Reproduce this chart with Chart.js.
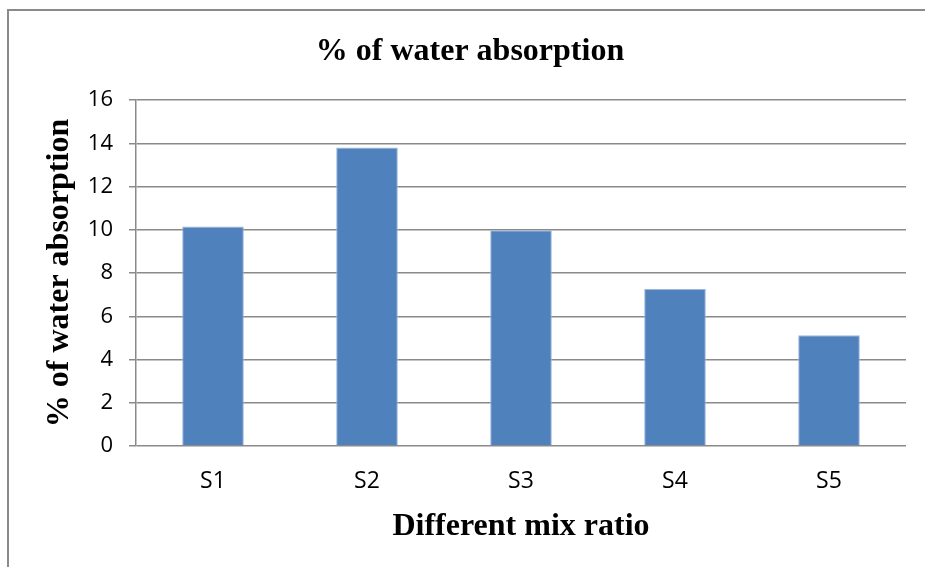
<!DOCTYPE html>
<html>
<head>
<meta charset="utf-8">
<title>% of water absorption</title>
<script src="https://cdn.jsdelivr.net/npm/chart.js@4"></script>
<style>
  html, body { margin: 0; padding: 0; background: #ffffff; }
  #wrap { width: 925px; height: 567px; }
</style>
</head>
<body>
<div id="wrap"><canvas id="chart" width="925" height="567"></canvas></div>
<script>
// Mix ratios and their water absorption (%)
const categories = ['S1', 'S2', 'S3', 'S4', 'S5'];
const absorption = [10.15, 13.8, 9.98, 7.26, 5.12];
const yTicks = [0, 2, 4, 6, 8, 10, 12, 14, 16];

const chartTitle = '% of water absorption';
const xTitle = 'Different mix ratio';
const yTitle = '% of water absorption';

const serifFamily = '"Liberation Serif", "Times New Roman", serif';
const serifBold = { family: serifFamily, size: 32, weight: 'bold' };
const yTickFont = { family: '"Open Sans", "Liberation Sans", sans-serif', size: 22 };
const xTickFont = { family: '"Open Sans", "Liberation Sans", sans-serif', size: 23 };

// Frame lines along the left and top edges, plus the centred chart title
const framePlugin = {
  id: 'frame',
  beforeDraw(chart) {
    const ctx = chart.ctx;
    ctx.save();
    ctx.fillStyle = '#ffffff';
    ctx.fillRect(0, 0, chart.width, chart.height);
    ctx.strokeStyle = '#8a8a8a';
    ctx.lineWidth = 2;
    ctx.beginPath();
    ctx.moveTo(8, chart.height);
    ctx.lineTo(8, 10);
    ctx.lineTo(chart.width, 10);
    ctx.stroke();
    ctx.restore();
  },
  afterDraw(chart) {
    const ctx = chart.ctx;
    ctx.save();
    ctx.fillStyle = '#000000';
    ctx.font = 'bold 32px ' + serifFamily;
    ctx.textAlign = 'center';
    ctx.textBaseline = 'alphabetic';
    ctx.fillText(chartTitle, 470, 60);
    ctx.restore();
  }
};

new Chart(document.getElementById('chart'), {
  type: 'bar',
  data: {
    labels: categories,
    datasets: [{
      data: absorption,
      backgroundColor: '#4F81BD',
      borderColor: '#9db6da',
      borderWidth: 1,
      categoryPercentage: 1.0,
      barPercentage: 0.4
    }]
  },
  options: {
    responsive: false,
    animation: false,
    devicePixelRatio: 1,
    layout: { padding: { left: 8, right: 19, top: 100, bottom: 0 } },
    plugins: {
      legend: { display: false },
      tooltip: { enabled: false },
      title: { display: false }
    },
    scales: {
      x: {
        grid: { display: false, drawTicks: false },
        border: { display: false },
        ticks: { color: '#000000', font: xTickFont, padding: 22 },
        title: {
          display: true,
          text: xTitle,
          color: '#000000',
          font: serifBold,
          padding: { top: 0, bottom: 21 }
        },
        afterFit(scale) { scale.height = 121; }
      },
      y: {
        min: 0,
        max: 16,
        afterBuildTicks(scale) { scale.ticks = yTicks.map(v => ({ value: v })); },
        grid: { color: '#8a8a8a', lineWidth: 1.5, tickLength: 7, drawTicks: true },
        border: { display: true, color: '#8a8a8a', width: 1.5 },
        ticks: { color: '#000000', font: yTickFont, padding: 16 },
        title: {
          display: true,
          text: yTitle,
          color: '#000000',
          font: serifBold,
          padding: { top: 33, bottom: 0 }
        },
        afterFit(scale) { scale.width = 128; }
      }
    }
  },
  plugins: [framePlugin]
});
</script>
</body>
</html>
